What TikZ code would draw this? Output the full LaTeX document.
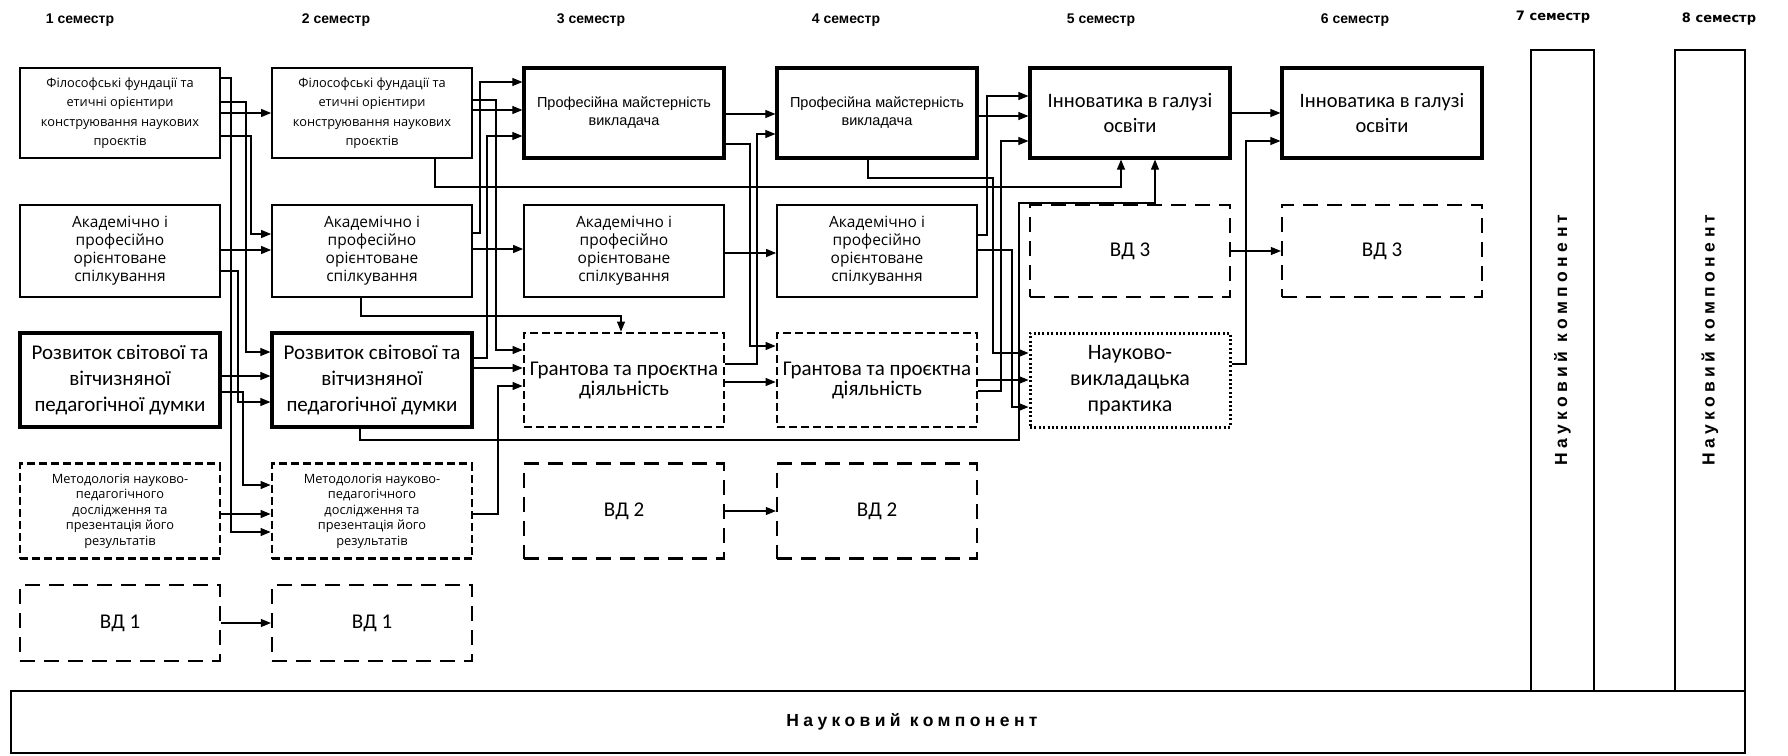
\documentclass[tikz,border=0pt]{standalone}
\usepackage{fontspec}
\setmainfont{Open Sans}
\newfontfamily\calibrifont{Carlito}
\newfontfamily\arialfont{Liberation Sans}
\newfontfamily\widefont{DejaVu Sans}
\newfontfamily\spacedfont[LetterSpace=25]{Liberation Sans}
\usetikzlibrary{positioning,arrows.meta}
\usetikzlibrary{math,calc}
\tikzset{
    box/.style={draw, align=center, inner sep=2pt, minimum width=200pt},
    thinbox/.style={box, line width=1.8pt},
    boldbox/.style={box, line width=3.2pt},
    dashbox/.style={box, line width=2.8pt, dash pattern=on 8pt off 4pt},
    longdash/.style={box, line width=2.2pt, dash pattern=on 15pt off 9pt},
    dotbox/.style={box, line width=3pt, dash pattern=on 2pt off 2.4pt},
    semhead/.style={font=\arialfont\bfseries\fontsize{14}{16}\selectfont},
    semwide/.style={font=\widefont\bfseries\fontsize{13}{15}\selectfont},
    scitext/.style={font=\spacedfont\bfseries\fontsize{17.5}{20}\selectfont},
    vdtext/.style={font=\calibrifont\fontsize{21}{24}\selectfont},
    link/.style={draw, line width=1.1pt, -{Triangle[length=10pt,width=8pt]}},
}

\begin{document}
\begin{tikzpicture}[
    x=1pt, y=-1pt,
    line join=miter,
  ]

  \tikzmath{
    \colA = 120;  % centre of the 1st semester column
    \colB = 372;
    \colC = 624;
    \colD = 877;
    \colE = 1130;
    \colF = 1382; % centre of the 6th semester column
    \rowA = 113;  % centres of the five rows
    \rowB = 251;
    \rowC = 380;
    \rowD = 511;
    \rowE = 623;
  }

  \useasboundingbox (0,0) rectangle (1788,755);

  % ---------
  % Semesters
  % ---------

  \node[semhead] (sem1) at (80,20)   {1 семестр};
  \node[semhead] (sem2) at (336,20)  {2 семестр};
  \node[semhead] (sem3) at (591,20)  {3 семестр};
  \node[semhead] (sem4) at (846,20)  {4 семестр};
  \node[semhead] (sem5) at (1101,20) {5 семестр};
  \node[semhead] (sem6) at (1355,20) {6 семестр};
  \node[semwide] (sem7) at (1553,17) {7 семестр};
  \node[semwide] (sem8) at (1719,19) {8 семестр};

  % -----------
  % Disciplines
  % -----------

  % Row 1
  \node[thinbox, minimum height=90pt, font={\fontsize{12.8}{19.5}\selectfont}] (phil1) at (\colA,\rowA)
    {Філософські фундації та\\етичні орієнтири\\конструювання наукових\\проєктів};
  \node[thinbox, minimum height=90pt, font={\fontsize{12.8}{19.5}\selectfont}] (phil2) at (\colB,\rowA)
    {Філософські фундації та\\етичні орієнтири\\конструювання наукових\\проєктів};
  \node[boldbox, minimum height=90pt, font={\arialfont\fontsize{14.5}{18}\selectfont}] (prof3) at (\colC,\rowA)
    {Професійна майстерність\\викладача};
  \node[boldbox, minimum height=90pt, font={\arialfont\fontsize{14.5}{18}\selectfont}] (prof4) at (\colD,\rowA)
    {Професійна майстерність\\викладача};
  \node[boldbox, minimum height=90pt, font={\calibrifont\fontsize{20.5}{25}\selectfont}] (innov5) at (\colE,\rowA)
    {Інноватика в галузі\\освіти};
  \node[boldbox, minimum height=90pt, font={\calibrifont\fontsize{20.5}{25}\selectfont}] (innov6) at (\colF,\rowA)
    {Інноватика в галузі\\освіти};

  % Row 2
  \node[thinbox, minimum height=92pt, font={\fontsize{15.5}{18}\selectfont}] (acad1) at (\colA,\rowB)
    {Академічно і\\професійно\\орієнтоване\\спілкування};
  \node[thinbox, minimum height=92pt, font={\fontsize{15.5}{18}\selectfont}] (acad2) at (\colB,\rowB)
    {Академічно і\\професійно\\орієнтоване\\спілкування};
  \node[thinbox, minimum height=92pt, font={\fontsize{15.5}{18}\selectfont}] (acad3) at (\colC,\rowB)
    {Академічно і\\професійно\\орієнтоване\\спілкування};
  \node[thinbox, minimum height=92pt, font={\fontsize{15.5}{18}\selectfont}] (acad4) at (\colD,\rowB)
    {Академічно і\\професійно\\орієнтоване\\спілкування};
  \node[longdash, minimum height=92pt, vdtext] (vd3a) at (\colE,\rowB) {ВД 3};
  \node[longdash, minimum height=92pt, vdtext] (vd3b) at (\colF,\rowB) {ВД 3};

  % Row 3
  \node[boldbox, minimum height=94pt, font={\calibrifont\fontsize{21}{26}\selectfont}] (dev1) at (\colA,\rowC)
    {Розвиток світової та\\вітчизняної\\педагогічної думки};
  \node[boldbox, minimum height=94pt, font={\calibrifont\fontsize{21}{26}\selectfont}] (dev2) at (\colB,\rowC)
    {Розвиток світової та\\вітчизняної\\педагогічної думки};
  \node[dashbox, minimum height=94pt, font={\calibrifont\fontsize{21}{20}\selectfont}] (grant3) at (\colC,\rowC)
    {Грантова та проєктна\\діяльність};
  \node[dashbox, minimum height=94pt, font={\calibrifont\fontsize{21}{20}\selectfont}] (grant4) at (\colD,\rowC)
    {Грантова та проєктна\\діяльність};
  \node[dotbox, minimum height=94pt, font={\calibrifont\fontsize{22}{26}\selectfont}] (prac5) at (\colE,\rowC)
    {Науково-\\викладацька\\практика};

  % Row 4
  \node[dashbox, minimum height=95pt, font={\fontsize{12.8}{15.5}\selectfont}] (meth1) at (\colA,\rowD)
    {Методологія науково-\\педагогічного\\дослідження та\\презентація його\\результатів};
  \node[dashbox, minimum height=95pt, font={\fontsize{12.8}{15.5}\selectfont}] (meth2) at (\colB,\rowD)
    {Методологія науково-\\педагогічного\\дослідження та\\презентація його\\результатів};
  \node[longdash, minimum height=95pt, vdtext] (vd2a) at (\colC,\rowD) {ВД 2};
  \node[longdash, minimum height=95pt, vdtext] (vd2b) at (\colD,\rowD) {ВД 2};

  % Row 5
  \node[longdash, minimum height=76pt, vdtext] (vd1a) at (\colA,\rowE) {ВД 1};
  \node[longdash, minimum height=76pt, vdtext] (vd1b) at (\colB,\rowE) {ВД 1};

  % ------------------
  % Research component
  % ------------------

  \node[draw, line width=2.6pt, minimum width=63pt, minimum height=641pt] (bar7) at (1562.5,370.5) {};
  \node[draw, line width=2.6pt, minimum width=70pt, minimum height=641pt] (bar8) at (1710,370.5) {};
  \node[scitext, rotate=90] (bar7txt) at (bar7 |- 0,340) {Науковий компонент};
  \node[scitext, rotate=90] (bar8txt) at (bar8 |- 0,340) {Науковий компонент};

  \node[draw, line width=2.6pt, minimum width=1734pt, minimum height=62pt] (base) at (878,722) {};
  \node[scitext] (basetxt) at (912,722) {Науковий компонент};

  % ----------
  % Connectors
  % ----------

  % 1st -> 2nd semester
  \draw[link] (phil1.east |- 0,78)  -| (231,532) -- (meth2.west |- 0,532);
  \draw[link] (phil1.east |- 0,102) -| (246,352) -- (dev2.west |- 0,352);
  \draw[link] (phil1.east |- 0,113) -- (phil2.west |- 0,113);
  \draw[link] (phil1.east |- 0,136) -| (251,234) -- (acad2.west |- 0,234);
  \draw[link] (acad1.east |- 0,250) -- (acad2.west |- 0,250);
  \draw[link] (acad1.east |- 0,271) -| (238,402) -- (dev2.west |- 0,402);
  \draw[link] (dev1.east |- 0,376)  -- (dev2.west |- 0,376);
  \draw[link] (dev1.east |- 0,392)  -| (243,485) -- (meth2.west |- 0,485);
  \draw[link] (meth1.east |- 0,514) -- (meth2.west |- 0,514);
  \draw[link] (vd1a) -- (vd1b);

  % 2nd -> 3rd semester
  \draw[link] (acad2.east |- 0,233) -| (480,82)  -- (prof3.west |- 0,82);
  \draw[link] (phil2.east |- 0,100) -| (496,350) -- (grant3.west |- 0,350);
  \draw[link] (phil2.east |- 0,110) -- (prof3.west |- 0,110);
  \draw[link] (dev2.east |- 0,358)  -| (487,136) -- (prof3.west |- 0,136);
  \draw[link] (acad2.east |- 0,249) -- (acad3.west |- 0,249);
  \draw[link] (dev2.east |- 0,368)  -- (grant3.west |- 0,368);
  \draw[link] (meth2.east |- 0,514) -| (498,386) -- (grant3.west |- 0,386);
  \draw[link] (acad2.south -| 361,0) |- (621,316) -- (grant3.north -| 621,0);

  % long lines to the 5th semester
  \draw[link] (phil2.south -| 435,0) |- (1121,187) -- (innov5.south -| 1121,0);
  \draw[link] (dev2.south -| 360,0) |- (1019,440) |- (1155,203) -- (innov5.south -| 1155,0);

  % 3rd -> 4th semester
  \draw[link] (prof3.east |- 0,114)  -- (prof4.west |- 0,114);
  \draw[link] (prof3.east |- 0,144)  -| (750,346) -- (grant4.west |- 0,346);
  \draw[link] (grant3.east |- 0,364) -| (757,134) -- (prof4.west |- 0,134);
  \draw[link] (acad3.east |- 0,253)  -- (acad4.west |- 0,253);
  \draw[link] (grant3.east |- 0,382) -- (grant4.west |- 0,382);
  \draw[link] (vd2a) -- (vd2b);

  % 4th -> 5th semester
  \draw[link] (acad4.east |- 0,235)  -| (987,96)   -- (innov5.west |- 0,96);
  \draw[link] (prof4.east |- 0,116)  -- (innov5.west |- 0,116);
  \draw[link] (grant4.east |- 0,391) -| (1001,141) -- (innov5.west |- 0,141);
  \draw[link] (prof4.south -| 868,0) |- (993,178) |- (prac5.west |- 0,353);
  \draw[link] (grant4.east |- 0,380) -- (prac5.west |- 0,380);
  \draw[link] (acad4.east |- 0,250)  -| (1012,407) -- (prac5.west |- 0,407);

  % 5th -> 6th semester
  \draw[link] (innov5.east |- 0,113) -- (innov6.west |- 0,113);
  \draw[link] (prac5.east |- 0,364)  -| (1246,141) -- (innov6.west |- 0,141);
  \draw[link] (vd3a) -- (vd3b);

\end{tikzpicture}
\end{document}
